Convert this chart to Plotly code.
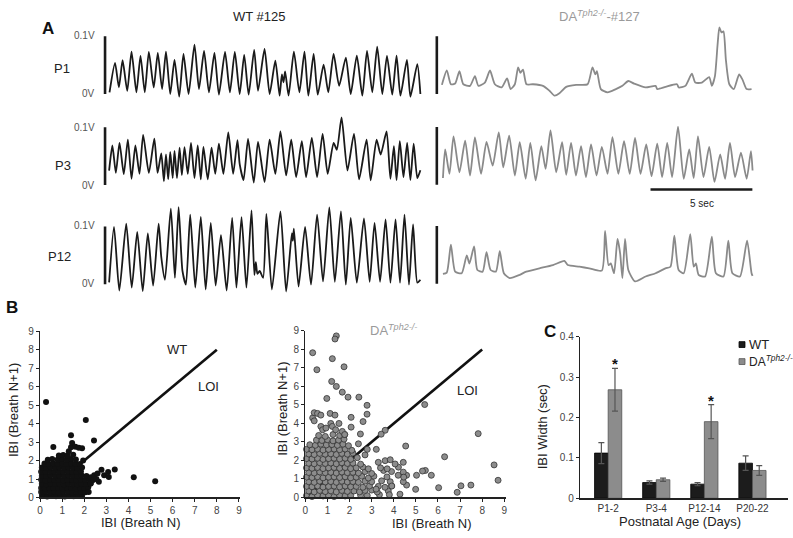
import plotly.graph_objects as go

W, H = 793, 538
FONT = "Liberation Sans, Arial, sans-serif"

# ---------------- DATA ----------------
# Panel A: plethysmograph traces, (time s, signal V) key points
wt_p1 = [(0.01,0.0029),(0.28,0.0537),(0.47,0.0114),(0.65,0.0585),(0.88,0.0056),(1.09,0.0734),(1.33,0.0029),
         (1.53,0.0661),(1.74,0.0029),(1.94,0.0729),(2.18,0.0114),(2.38,0.0712),(2.59,0.0085),(2.78,0.0734),
         (2.99,0.0),(3.20,0.0593),(3.43,-0.0046),(3.64,0.0695),(3.89,0.0),(4.18,0.0856),(4.40,0.0085),
         (4.65,0.0746),(4.89,0.0029),(5.16,0.0712),(5.38,-0.0012),(5.68,0.0729),(5.92,0.0029),(6.16,0.0729),
         (6.40,0.0),(6.62,0.0678),(6.84,-0.0012),(7.11,0.0763),(7.30,0.0056),(7.62,0.078),(7.87,0.0),
         (8.15,0.0576),(8.36,-0.0029),(8.47,0.0339),(8.55,0.0203),(8.63,0.039),(8.80,-0.0029),(9.06,0.0734),
         (9.33,0.0029),(9.58,0.0734),(9.77,-0.0029),(10.03,0.0695),(10.23,-0.0012),(10.52,0.0508),(10.75,0.0029),
         (11.01,0.0695),(11.28,0.0141),(11.61,0.0632),(11.85,0.0),(12.15,0.0666),(12.42,-0.0029),(12.65,0.0746),
         (12.91,0.0029),(13.15,0.0819),(13.40,0.0),(13.63,0.0661),(13.89,-0.0012),(14.10,0.0666),(14.29,-0.0029),
         (14.61,0.0593),(14.78,-0.0046),(15.12,0.0517),(15.27,0.0)]

wt_p3 = [(-0.01,0.0249),(0.15,0.0683),(0.32,0.0208),(0.50,0.0729),(0.71,0.0186),(0.91,0.0785),(1.09,0.0107),
         (1.28,0.0683),(1.48,0.0192),(1.66,0.0869),(1.94,0.0208),(2.21,0.0802),(2.37,0.0208),(2.55,0.0547),
         (2.68,0.0063),(2.78,0.0531),(2.89,0.0097),(2.99,0.0571),(3.11,0.0119),(3.20,0.0588),(3.32,0.0119),
         (3.45,0.0644),(3.56,0.0169),(3.69,0.0656),(3.85,0.0192),(4.01,0.0729),(4.18,0.0119),(4.34,0.0683),
         (4.49,0.0097),(4.62,0.0661),(4.83,0.0097),(5.02,0.0644),(5.20,0.0192),(5.38,0.0717),(5.60,0.0192),
         (5.84,0.091),(6.08,0.0192),(6.29,0.0775),(6.40,0.0361),(6.59,0.0085),(6.81,0.0797),(7.09,0.0039),
         (7.30,0.0746),(7.62,0.0051),(7.87,0.0785),(8.15,0.0192),(8.40,0.0927),(8.68,0.0164),(8.93,0.0785),
         (9.17,0.0136),(9.45,0.0758),(9.66,0.0136),(9.94,0.0814),(10.20,0.0136),(10.47,0.0886),(10.72,0.0192),
         (11.01,0.0729),(11.17,0.061),(11.40,0.1169),(11.69,0.0249),(12.01,0.0886),(12.26,0.0097),(12.63,0.0785),
         (12.83,0.008),(13.12,0.0785),(13.32,0.0525),(13.61,0.0927),(13.80,0.0107),(13.97,0.0673),(14.10,0.0085),
         (14.26,0.0758),(14.44,0.0136),(14.62,0.0729),(14.78,0.0085),(14.94,0.0717),(15.12,0.0119),(15.27,0.0254)]

wt_p12 = [(-0.01,0.0031),(0.23,0.0992),(0.49,-0.011),(0.83,0.1047),(1.10,-0.0059),(1.37,0.0907),(1.64,-0.0122),
          (1.89,0.0878),(2.15,-0.0025),(2.42,0.1047),(2.55,0.0471),(2.73,0.0076),(3.02,0.1308),(3.22,0.011),
          (3.40,0.1336),(3.59,0.0229),(3.76,-0.0008),(3.97,0.1207),(4.22,-0.0059),(4.49,0.1166),(4.73,-0.0093),
          (4.98,0.1064),(5.22,-0.0025),(5.48,0.0851),(5.76,-0.011),(6.03,0.1149),(6.24,-0.0059),(6.49,0.1161),
          (6.73,-0.0059),(6.98,0.128),(7.12,0.0161),(7.19,0.0381),(7.27,0.0178),(7.38,0.0229),(7.55,0.011),
          (7.71,0.1217),(7.98,-0.0093),(8.40,0.1263),(8.68,-0.0127),(8.96,0.0878),(9.01,0.0754),(9.06,0.0963),
          (9.29,-0.0042),(9.61,0.0992),(9.90,-0.0008),(10.20,0.1207),(10.49,0.0047),(10.80,0.1331),(11.07,0.0042),
          (11.37,0.1263),(11.61,-0.0008),(11.85,0.1149),(12.15,0.0025),(12.50,0.1139),(12.78,0.0042),(13.02,0.1064),
          (13.29,0.0042),(13.56,0.1122),(13.80,0.0025),(14.05,0.1122),(14.27,0.0025),(14.49,0.1207),(14.71,-0.0008),
          (14.91,0.1037),(15.12,0.0025),(15.27,0.0076)]

da_p1 = [(0.01,0.0158),(0.25,0.0407),(0.45,0.0169),(0.66,0.0181),(0.87,0.0395),(1.06,0.0169),(1.39,0.0141),
         (1.63,0.031),(1.80,0.0141),(2.12,0.0198),(2.37,0.0407),(2.61,0.0169),(2.94,0.0114),(3.21,0.0271),
         (3.38,0.0085),(3.59,0.0169),(3.75,0.0463),(3.86,0.0368),(3.99,0.0424),(4.16,0.0169),(4.48,0.0169),
         (4.97,0.0141),(5.29,0.0056),(5.54,-0.0029),(5.78,0.0012),(6.11,0.0124),(6.60,0.0158),(7.16,0.0169),
         (7.40,0.0463),(7.54,0.0339),(7.62,0.0395),(7.81,0.0085),(8.14,0.0029),(8.55,0.0085),(8.87,0.0141),
         (9.16,0.0225),(9.44,0.0181),(10.01,0.0114),(10.50,0.0141),(10.58,0.0085),(10.99,0.0124),(11.55,0.0169),
         (11.63,0.0114),(11.96,0.0141),(12.28,0.0351),(12.45,0.0198),(12.77,0.0198),(13.13,0.0293),(13.26,0.0141),
         (13.41,0.0305),(13.54,0.0847),(13.63,0.1153),(13.73,0.1068),(13.83,0.1085),(13.95,0.0593),(14.12,0.0169),
         (14.34,0.0085),(14.60,0.0339),(14.76,0.0254),(14.97,0.0085),(15.21,0.0085)]

da_p3 = [(0.06,0.0114),(0.17,0.0611),(0.38,0.0187),(0.58,0.0837),(0.87,0.0215),(1.15,0.0763),(1.39,0.0158),
         (1.63,0.082),(1.93,0.0187),(2.20,0.0741),(2.50,0.0328),(2.80,0.0905),(3.02,0.03),(3.31,0.0848),
         (3.59,0.0158),(3.83,0.0735),(4.12,0.0102),(4.35,0.0724),(4.61,0.0074),(4.89,0.0667),(5.10,0.0272),
         (5.34,0.0938),(5.62,0.0215),(5.91,0.0735),(6.11,0.017),(6.35,0.0724),(6.59,0.0158),(6.84,0.0667),
         (7.08,0.0131),(7.33,0.0696),(7.60,0.0158),(7.86,0.0656),(8.14,0.0187),(8.38,0.0825),(8.67,0.0187),
         (8.95,0.0752),(9.23,0.0187),(9.49,0.0808),(9.76,0.0187),(10.04,0.0696),(10.30,0.0147),(10.58,0.0712),
         (10.82,0.0131),(11.07,0.0724),(11.31,0.0131),(11.60,0.1006),(11.88,0.0102),(12.15,0.0611),(12.37,0.0114),
         (12.58,0.0837),(12.85,0.0131),(13.13,0.0656),(13.39,0.0046),(13.67,0.0526),(13.91,0.0102),(14.15,0.0724),
         (14.40,0.0131),(14.69,0.0554),(14.97,0.0102),(15.18,0.0582),(15.26,0.0244)]

da_p12 = [(0.06,0.0169),(0.25,0.0192),(0.45,0.0678),(0.66,0.0209),(0.98,0.0181),(1.23,0.0492),(1.36,0.035),
          (1.59,0.0644),(1.75,0.0237),(2.01,0.0209),(2.20,0.0548),(2.40,0.0237),(2.66,0.0209),(2.85,0.0565),
          (3.05,0.0181),(3.34,0.0096),(3.83,0.0153),(4.15,0.0209),(4.80,0.0266),(5.46,0.0322),(6.02,0.0395),
          (6.19,0.0322),(6.76,0.0294),(7.24,0.0266),(7.86,0.0226),(8.02,0.0915),(8.19,0.0322),(8.30,0.035),
          (8.46,0.0181),(8.63,0.0774),(8.76,0.052),(8.87,0.0096),(9.00,0.0774),(9.16,0.0237),(9.49,0.004),
          (10.01,0.0124),(10.50,0.0181),(10.98,0.0266),(11.23,0.0294),(11.42,0.0831),(11.63,0.0237),(11.88,0.0181),
          (12.20,0.0859),(12.37,0.0294),(12.48,0.035),(12.61,0.0153),(12.93,0.0124),(13.26,0.0814),(13.46,0.0181),
          (13.83,0.0124),(14.07,0.0746),(14.27,0.0181),(14.64,0.0124),(14.99,0.0746),(15.21,0.0181),(15.26,0.0136)]

scale_v = [0.0, 0.1]          # vertical calibration bar (V)
scale_t = [10.25, 15.25]      # 5 sec time bar

# Panel B: IBI(N) vs IBI(N+1), seconds
wt_ibi = [
    (0.12,0.08),(0.32,0.06),(0.52,0.1),(0.72,0.07),(0.92,0.09),(1.12,0.06),(1.32,0.1),(1.52,0.07),(1.72,0.09),(1.9,0.08),
    (0.05,0.3),(0.25,0.32),(0.45,0.28),(0.65,0.31),(0.85,0.29),(1.05,0.32),(1.25,0.3),(1.45,0.28),(1.65,0.32),(1.85,0.3),(2.05,0.29),
    (0.05,0.52),(0.22,0.5),(0.42,0.54),(0.62,0.51),(0.82,0.53),(1.02,0.5),(1.22,0.54),(1.42,0.52),(1.62,0.5),(1.82,0.53),(2.02,0.51),(2.18,0.55),
    (0.08,0.74),(0.28,0.72),(0.48,0.76),(0.68,0.73),(0.88,0.75),(1.08,0.72),(1.28,0.76),(1.48,0.74),(1.68,0.72),(1.88,0.75),(2.08,0.73),(2.29,0.76),
    (0.05,0.96),(0.25,0.94),(0.45,0.98),(0.65,0.95),(0.85,0.97),(1.05,0.94),(1.25,0.98),(1.45,0.96),(1.65,0.94),(1.85,0.97),(2.05,0.95),(2.25,0.98),
    (0.08,1.18),(0.28,1.16),(0.48,1.2),(0.68,1.17),(0.88,1.19),(1.08,1.16),(1.28,1.2),(1.48,1.18),(1.68,1.16),(1.88,1.19),(2.1,1.17),
    (0.05,1.4),(0.25,1.38),(0.45,1.42),(0.65,1.39),(0.85,1.41),(1.05,1.38),(1.25,1.42),(1.45,1.4),(1.65,1.38),(1.85,1.41),
    (0.08,1.62),(0.28,1.6),(0.48,1.64),(0.68,1.61),(0.88,1.63),(1.08,1.6),(1.28,1.64),(1.48,1.62),(1.68,1.6),(1.9,1.63),
    (0.2,1.84),(0.4,1.82),(0.6,1.86),(0.8,1.83),(1.0,1.85),(1.2,1.82),(1.4,1.86),(1.6,1.84),(1.8,1.82),
    (0.35,2.05),(0.55,2.08),(0.8,2.06),(1.0,2.09),(1.2,2.05),(1.4,2.08),(1.62,2.06),(1.95,2.0),
    (0.85,2.28),(1.05,2.3),(1.25,2.27),(1.5,2.32),(1.3,2.5),(1.4,2.72),(1.45,2.95),(1.4,3.37),(1.6,2.75),(1.75,2.7),(1.9,2.66),
    (0.6,2.73),(2.3,1.1),(2.45,1.2),(2.6,1.3),(2.66,0.85),(2.78,1.5),(2.9,1.2),(3.08,1.38),(3.11,1.11),(3.38,1.52),
    (2.29,0.76),(2.4,0.95),(2.2,0.3),(2.55,1.0),
    (0.27,5.17),(2.07,4.2),(2.44,3.09),(4.24,1.09),(5.21,0.88)]

da_ibi = [
    (0.05,0.1),(0.3,0.05),(0.55,0.12),(0.8,0.08),(1.05,0.1),(1.3,0.05),(1.55,0.12),(1.8,0.08),(2.05,0.1),(2.5,0.12),(2.8,0.1),(3.35,0.15),(4.28,0.18),
    (0.15,0.35),(0.4,0.3),(0.65,0.38),(0.9,0.32),(1.15,0.36),(1.4,0.3),(1.65,0.38),(1.9,0.33),(2.2,0.35),(2.45,0.3),(2.7,0.38),(3.0,0.4),(3.25,0.3),(3.75,0.35),
    (0.05,0.6),(0.3,0.58),(0.55,0.62),(0.8,0.56),(1.05,0.6),(1.3,0.62),(1.55,0.57),(1.8,0.62),(2.05,0.58),(2.3,0.6),(2.6,0.55),(2.9,0.62),(3.3,0.6),(3.6,0.55),(3.9,0.62),(4.58,0.67),
    (0.15,0.85),(0.4,0.82),(0.65,0.88),(0.9,0.84),(1.15,0.86),(1.4,0.82),(1.65,0.88),(1.9,0.84),(2.15,0.86),(2.4,0.82),(2.7,0.88),(3.0,0.85),(3.45,0.9),(3.84,0.85),(4.43,0.85),
    (0.05,1.1),(0.3,1.08),(0.55,1.12),(0.8,1.06),(1.05,1.1),(1.3,1.12),(1.55,1.08),(1.8,1.12),(2.05,1.06),(2.3,1.1),(2.55,1.15),(2.85,1.05),(3.1,1.15),(3.69,1.11),(4.58,1.2),(4.2,1.2),
    (0.15,1.35),(0.4,1.32),(0.65,1.38),(0.9,1.34),(1.15,1.36),(1.4,1.32),(1.65,1.38),(1.9,1.34),(2.15,1.36),(2.4,1.32),(2.7,1.4),(3.0,1.3),(3.54,1.46),(3.9,1.4),(4.43,1.37),(4.21,1.64),
    (0.05,1.6),(0.3,1.58),(0.55,1.62),(0.8,1.56),(1.05,1.6),(1.3,1.62),(1.55,1.58),(1.8,1.62),(2.05,1.56),(2.3,1.6),(2.6,1.65),(2.85,1.55),(3.4,1.6),(3.7,1.55),
    (0.15,1.85),(0.4,1.82),(0.65,1.88),(0.9,1.84),(1.15,1.86),(1.4,1.82),(1.65,1.88),(1.9,1.84),(2.15,1.86),(2.5,1.8),(3.3,1.9),(4.06,1.81),(4.43,1.9),
    (0.05,2.1),(0.3,2.08),(0.55,2.12),(0.8,2.06),(1.05,2.1),(1.3,2.12),(1.55,2.08),(1.8,2.12),(2.05,2.06),(2.35,2.15),(3.61,1.99),(3.84,2.04),
    (0.15,2.35),(0.4,2.32),(0.65,2.38),(0.9,2.34),(1.15,2.36),(1.4,2.32),(1.65,2.38),(1.9,2.34),(2.15,2.4),(2.7,2.3),
    (0.05,2.6),(0.3,2.58),(0.55,2.62),(0.8,2.56),(1.05,2.6),(1.3,2.62),(1.55,2.58),(1.8,2.62),(2.1,2.55),(2.8,2.6),(3.21,2.6),
    (0.2,2.85),(0.45,2.82),(0.7,2.88),(0.95,2.84),(1.2,2.86),(1.45,2.82),(1.7,2.88),(1.95,2.8),(2.4,2.9),
    (0.5,3.1),(0.75,3.08),(1.0,3.12),(1.25,3.06),(1.5,3.1),(1.75,3.15),
    (0.6,3.35),(0.9,3.3),(1.25,3.4),(1.55,3.35),(1.78,3.4),(2.49,3.43),
    (1.40,8.73),(1.34,8.56),(0.33,7.82),(0.52,6.9),(1.22,7.5),(1.75,7.06),(1.19,6.27),(1.40,6.0),(0.97,5.35),
    (1.67,5.69),(1.93,5.42),(2.42,5.42),(2.79,4.98),(2.79,4.5),(2.61,4.1),(2.07,4.33),(2.07,3.8),(0.33,4.3),
    (0.40,4.14),(0.4,4.58),(0.55,4.54),(0.7,4.45),(1.12,4.54),(1.34,4.45),(1.15,4.0),(1.22,3.84),(1.37,3.66),
    (0.7,3.84),(0.78,3.66),(0.93,3.75),(1.52,4.0),(1.67,3.57),(1.78,3.4),(3.61,3.63),(3.43,3.42),(4.54,2.78),
    (6.3,2.2),(5.43,1.46),(5.3,1.43),(5.7,1.2),(5.03,1.2),(4.99,0.44),(6.03,0.53),(7.04,0.63),(7.49,0.67),
    (6.87,0.28),(7.82,3.45),(8.54,1.76),(8.72,0.93),(5.4,5.02),(4.45,1.1),(3.91,0.62),(3.2,0.45),(3.8,0.15)]

loi_line = [0, 8]
ibi_ticks = [0, 1, 2, 3, 4, 5, 6, 7, 8, 9]

# Panel C: IBI width (sec)
age_groups = ["P1-2", "P3-4", "P12-14", "P20-22"]
wt_width = [0.112, 0.039, 0.035, 0.087]
wt_sem = [0.026, 0.004, 0.004, 0.018]
da_width = [0.269, 0.046, 0.190, 0.069]
da_sem = [0.053, 0.004, 0.042, 0.012]
signif = [True, False, True, False]
width_ticks = [0, 0.1, 0.2, 0.3, 0.4]

# ---------------- HELPERS ----------------
def xd(a, b):
    return [a / W, b / W]

def yd(top, bottom):
    return [1 - bottom / H, 1 - top / H]

def px(x):
    return x / W

def py(y):
    return 1 - y / H

BLACK = "#1a1a1a"
GRAY = "#8a8a8a"
GRAYTXT = "#9a9a9a"

fig = go.Figure()
layout = dict(width=W, height=H, margin=dict(l=0, r=0, t=0, b=0),
              paper_bgcolor="white", plot_bgcolor="rgba(0,0,0,0)",
              font=dict(family=FONT, color="#222"), showlegend=False,
              barmode="group", bargap=0.434, bargroupgap=0)

PXV = 590.0      # px per volt
PXS = 20.5       # px per second
VR = [-0.03, 0.14]
TR = [-0.4, 15.4]

# (data, color, t0 px, baseline px, scale bar time, show 5 s bar)
panels = [
    (wt_p1, BLACK, 107.0, 90.0, -0.21, False),
    (wt_p3, BLACK, 107.0, 183.0, -0.21, False),
    (wt_p12, BLACK, 107.0, 284.5, -0.21, False),
    (da_p1, GRAY, 441.5, 90.0, -0.24, False),
    (da_p3, GRAY, 441.5, 182.7, -0.24, True),
    (da_p12, GRAY, 441.5, 284.0, -0.24, False),
]

annotations = []
for i, (pts, col, t0, base, sbt, tbar) in enumerate(panels, start=1):
    xa = "x" if i == 1 else f"x{i}"
    ya = "y" if i == 1 else f"y{i}"
    xk = "xaxis" if i == 1 else f"xaxis{i}"
    yk = "yaxis" if i == 1 else f"yaxis{i}"
    x0 = t0 + TR[0] * PXS
    x1 = t0 + TR[1] * PXS
    ytop = base - VR[1] * PXV
    ybot = base - VR[0] * PXV
    layout[xk] = dict(domain=xd(x0, x1), range=TR, visible=False, anchor=ya)
    layout[yk] = dict(domain=yd(ytop, ybot), range=VR, visible=False, anchor=xa)
    fig.add_trace(go.Scatter(x=[p[0] for p in pts], y=[p[1] for p in pts], mode="lines",
                             line=dict(color=col, width=1.8, shape="spline", smoothing=0.6),
                             xaxis=xa, yaxis=ya, hoverinfo="skip"))
    fig.add_trace(go.Scatter(x=[sbt, sbt], y=scale_v, mode="lines",
                             line=dict(color=BLACK, width=2.6), xaxis=xa, yaxis=ya, hoverinfo="skip"))
    if tbar:
        fig.add_trace(go.Scatter(x=scale_t, y=[-0.0085, -0.0085], mode="lines",
                                 line=dict(color=BLACK, width=2.6), xaxis=xa, yaxis=ya, hoverinfo="skip"))

# Panel A texts
annotations += [
    dict(x=px(45), y=py(23), text="<b>A</b>", font=dict(size=17, color="#111")),
    dict(x=px(258.3), y=py(10.7), text="WT #125", font=dict(size=13, color="#222")),
    dict(x=px(600), y=py(10.7), text="DA<sup><i>Tph2-/-</i></sup>-#127", font=dict(size=13, color=GRAYTXT)),
    dict(x=px(59.7), y=py(64), text="P1", font=dict(size=13, color="#222")),
    dict(x=px(60.5), y=py(163.3), text="P3", font=dict(size=13, color="#222")),
    dict(x=px(56.7), y=py(256), text="P12", font=dict(size=13, color="#222")),
    dict(x=px(703.3), y=py(201.7), text="5 sec", font=dict(size=10, color="#222")),
]
for top, bot in [(30, 90), (124, 183.3), (224, 284.3)]:
    annotations.append(dict(x=px(95), y=py(top), xanchor="right", text="0.1V", font=dict(size=10, color="#555")))
    annotations.append(dict(x=px(95), y=py(bot), xanchor="right", text="0V", font=dict(size=10, color="#555")))

# Panel B scatter axes
axis_common = dict(showgrid=False, zeroline=False, showline=True, linecolor="#222", linewidth=1.3,
                   ticks="outside", ticklen=3, tickwidth=1, tickcolor="#222",
                   tickfont=dict(size=10, color="#444"))
layout["xaxis7"] = dict(domain=xd(37.3, 239), range=[0, 9.07], tickvals=ibi_ticks, anchor="y7", **axis_common)
layout["yaxis7"] = dict(domain=yd(332.7, 502.7), range=[0, 9], tickvals=ibi_ticks, anchor="x7", **axis_common)
layout["xaxis8"] = dict(domain=xd(304.3, 506), range=[0, 9.07], tickvals=ibi_ticks, anchor="y8", **axis_common)
layout["yaxis8"] = dict(domain=yd(332.3, 502.7), range=[0, 9], tickvals=ibi_ticks, anchor="x8", **axis_common)

for xa, ya in [("x7", "y7"), ("x8", "y8")]:
    fig.add_trace(go.Scatter(x=loi_line, y=loi_line, mode="lines", line=dict(color="#111", width=2.6),
                             xaxis=xa, yaxis=ya, hoverinfo="skip"))
fig.add_trace(go.Scatter(x=[p[0] for p in wt_ibi], y=[p[1] for p in wt_ibi], mode="markers",
                         marker=dict(size=6, color="#111", line=dict(width=0)), cliponaxis=False,
                         xaxis="x7", yaxis="y7", hoverinfo="skip"))
fig.add_trace(go.Scatter(x=[p[0] for p in da_ibi], y=[p[1] for p in da_ibi], mode="markers",
                         marker=dict(size=6, color="#8c8c8c", line=dict(width=0.8, color="#333")),
                         cliponaxis=False, xaxis="x8", yaxis="y8", hoverinfo="skip"))

annotations += [
    dict(x=px(9.3), y=py(308.3), text="<b>B</b>", font=dict(size=17, color="#111")),
    dict(x=6.18, y=7.99, xref="x7", yref="y7", text="WT", font=dict(size=13, color="#222")),
    dict(x=7.6, y=6.02, xref="x7", yref="y7", text="LOI", font=dict(size=13, color="#222")),
    dict(x=7.34, y=5.79, xref="x8", yref="y8", text="LOI", font=dict(size=13, color="#222")),
    dict(x=px(393), y=py(331.7), text="DA<sup><i>Tph2-/-</i></sup>", font=dict(size=13, color=GRAYTXT)),
    dict(x=px(138.3), y=py(528.3), text="IBI (Breath N)", font=dict(size=13, color="#222")),
    dict(x=px(430.8), y=py(529.3), text="IBI (Breath N)", font=dict(size=13, color="#222")),
    dict(x=px(10), y=py(413.3), text="IBI (Breath N+1)", textangle=-90, font=dict(size=13, color="#222")),
    dict(x=px(281.3), y=py(412.5), text="IBI (Breath N+1)", textangle=-90, font=dict(size=13, color="#222")),
]

# Panel C bars
layout["xaxis9"] = dict(domain=xd(580.7, 790), range=[-0.585, 3.74], tickvals=[0, 1, 2, 3],
                        ticktext=age_groups, anchor="y9", showgrid=False, zeroline=False, showline=True,
                        linecolor="#222", linewidth=1.6, ticks="", tickfont=dict(size=10, color="#333"))
layout["yaxis9"] = dict(domain=yd(338.5, 503.5), range=[0, 0.4], tickvals=width_ticks,
                        ticktext=["0", "0.1", "0.2", "0.3", "0.4"], anchor="x9", showgrid=False,
                        zeroline=False, showline=True, linecolor="#222", linewidth=1.3, ticks="outside",
                        ticklen=3, tickcolor="#222", tickfont=dict(size=10, color="#444"))
xs = list(range(len(age_groups)))
fig.add_trace(go.Bar(x=xs, y=wt_width, name="WT", xaxis="x9", yaxis="y9",
                     marker=dict(color="#1c1c1c", line=dict(color="#000", width=0.8)),
                     error_y=dict(type="data", array=wt_sem, color="#555", thickness=1.2, width=3),
                     hoverinfo="skip"))
fig.add_trace(go.Bar(x=xs, y=da_width, name="DA", xaxis="x9", yaxis="y9",
                     marker=dict(color="#8c8c8c", line=dict(color="#555", width=0.8)),
                     error_y=dict(type="data", array=da_sem, color="#555", thickness=1.2, width=3),
                     hoverinfo="skip"))
half_bar = (1 - layout["bargap"]) / 4
for i, s in enumerate(signif):
    if s:
        annotations.append(dict(x=i + half_bar, y=da_width[i] + da_sem[i], xref="x9", yref="y9",
                                yanchor="bottom", yshift=-6, text="<b>*</b>",
                                font=dict(size=15, color="#111")))

annotations += [
    dict(x=px(550), y=py(333.3), text="<b>C</b>", font=dict(size=17, color="#111")),
    dict(x=px(543.3), y=py(430), text="IBI Width (sec)", textangle=-90, font=dict(size=13, color="#222")),
    dict(x=px(681), y=py(527.3), text="Postnatal Age (Days)", font=dict(size=13, color="#222")),
    dict(x=px(748.3), y=py(346.5), xanchor="left", text="WT", font=dict(size=13, color="#222")),
    dict(x=px(748.3), y=py(363.5), xanchor="left", text="DA<sup><i>Tph2-/-</i></sup>", font=dict(size=12, color="#222")),
]
for a in annotations:
    a.setdefault("xref", "paper")
    a.setdefault("yref", "paper")
    a.setdefault("showarrow", False)
    a.setdefault("xanchor", "center")
    a.setdefault("yanchor", "middle")
layout["annotations"] = annotations
layout["shapes"] = [
    dict(type="rect", xref="paper", yref="paper", x0=px(740.7), x1=px(746.7), y0=py(349.3), y1=py(343.3),
         fillcolor="#1c1c1c", line=dict(color="#000", width=0.8)),
    dict(type="rect", xref="paper", yref="paper", x0=px(740.7), x1=px(746.7), y0=py(366.7), y1=py(360.7),
         fillcolor="#8c8c8c", line=dict(color="#555", width=0.8)),
]

fig.update_layout(**layout)
fig.write_html("out.html", config={"displayModeBar": False, "staticPlot": True},
               post_script="document.body.style.margin='0';document.body.style.padding='0';")
